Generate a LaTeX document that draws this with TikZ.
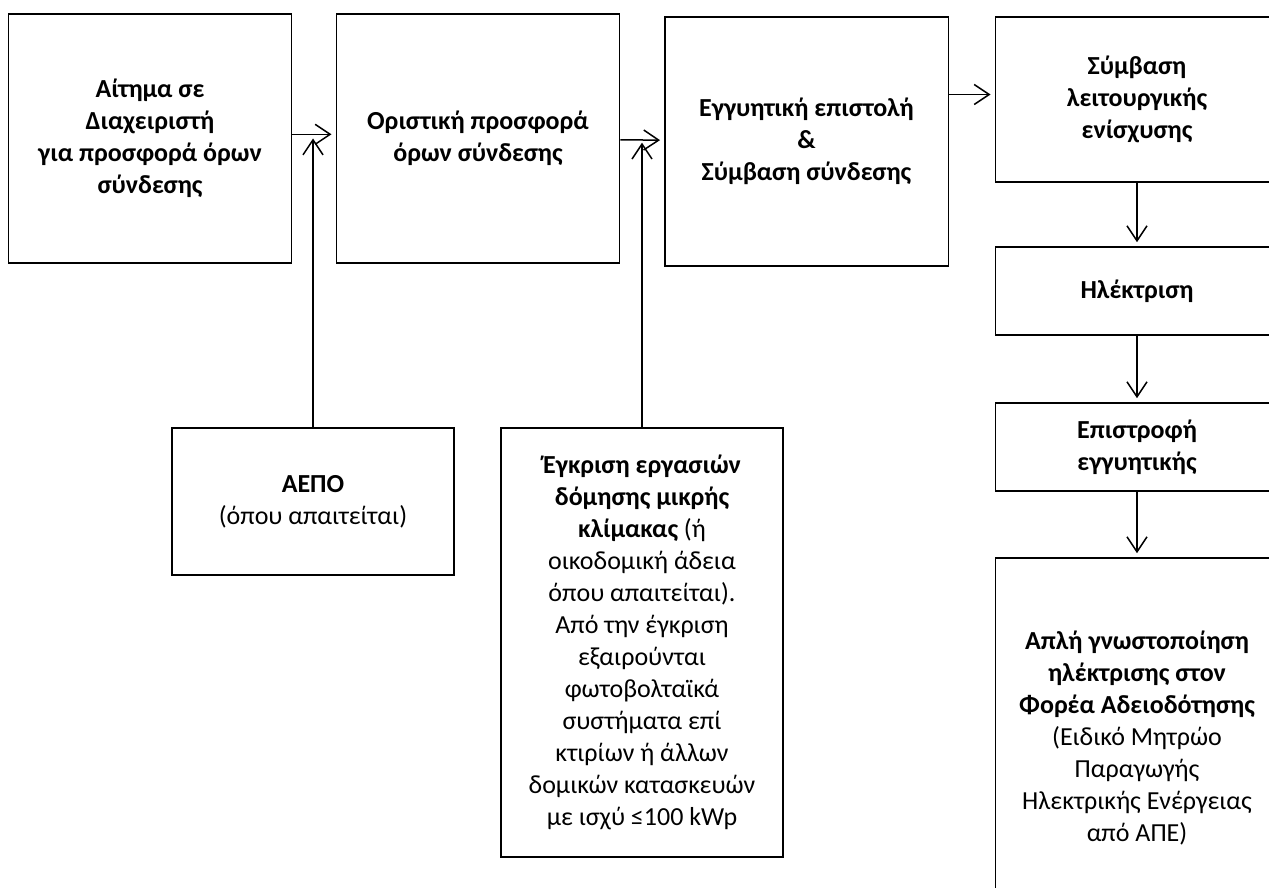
\documentclass[tikz,border=0pt]{standalone}
\usepackage{fontspec}
\setmainfont{Carlito}
\usetikzlibrary{arrows.meta, positioning}

\begin{document}
\begin{tikzpicture}[x=0.6pt, y=-0.6pt,
    box/.style={draw, rectangle, line width=0.8pt, align=center, minimum width=170pt, inner sep=2pt, font=\fontsize{15.6}{19.2}\selectfont},
    keybox/.style={box, font=\fontsize{15.6}{19.2}\selectfont\bfseries},
    flow/.style={-{Straight Barb[length=9pt, width=12pt]}, line width=0.9pt, shorten >=2.5pt}]
        \useasboundingbox (0,0) rectangle (1269,888);
        % Top row of steps
        \node[keybox, minimum height=149.4pt] (aitima) at (150,138.5) {Αίτημα σε\\Διαχειριστή\\για προσφορά όρων\\σύνδεσης};
        \node[keybox, minimum height=149.4pt] (oristiki) at (478,138.5) {Οριστική προσφορά\\όρων σύνδεσης};
        \node[keybox, minimum height=149.4pt] (eggyisi) at (806.5,141.5) {Εγγυητική επιστολή\\\&\\Σύμβαση σύνδεσης};
        
        % Right column
        \node[keybox, minimum height=99pt] (symvasi) at (1137,99.5) {Σύμβαση\\λειτουργικής\\ενίσχυσης};
        \node[keybox, minimum height=52.8pt] (ilektrisi) at (1137,291) {Ηλέκτριση};
        \node[keybox, minimum height=52.8pt] (epistrofi) at (1137,447) {Επιστροφή\\εγγυητικής};
        \node[box, minimum height=216pt] (gnostopoiisi) at (1137,738) {\textbf{Απλή γνωστοποίηση}\\\textbf{ηλέκτρισης στον}\\\textbf{Φορέα Αδειοδότησης}\\(Ειδικό Μητρώο\\Παραγωγής\\Ηλεκτρικής Ενέργειας\\από ΑΠΕ)};
        
        % Permits below
        \node[box, minimum width=169.2pt, minimum height=88.2pt] (aepo) at (313,501.5) {\textbf{ΑΕΠΟ}\\(όπου απαιτείται)};
        \node[box, minimum width=169.2pt, minimum height=257.4pt] (egkrisi) at (642,642.5) {\textbf{Έγκριση εργασιών}\\\textbf{δόμησης μικρής}\\\textbf{κλίμακας} (ή\\οικοδομική άδεια\\όπου απαιτείται).\\Από την έγκριση\\εξαιρούνται\\φωτοβολταϊκά\\συστήματα επί\\κτιρίων ή άλλων\\δομικών κατασκευών\\με ισχύ ≤100 kWp};
        
        \draw[flow] ([yshift=2.5pt]aitima.east) -- ([yshift=2.5pt]oristiki.west);
        \draw[flow] (oristiki) -- (eggyisi);
        \draw[flow] ([yshift=3pt]eggyisi.east |- symvasi.west) -- ([yshift=3pt]symvasi.west);
        \draw[flow] (aepo.north) -- ([yshift=2.5pt]aepo.north |- aitima.east);
        \draw[flow] (egkrisi.north) -- (egkrisi.north |- oristiki.east);
        
        \draw[flow] (symvasi) -- (ilektrisi);
        \draw[flow] (ilektrisi) -- (epistrofi);
        \draw[flow] (epistrofi) -- (gnostopoiisi);
    \end{tikzpicture}
\end{document}
